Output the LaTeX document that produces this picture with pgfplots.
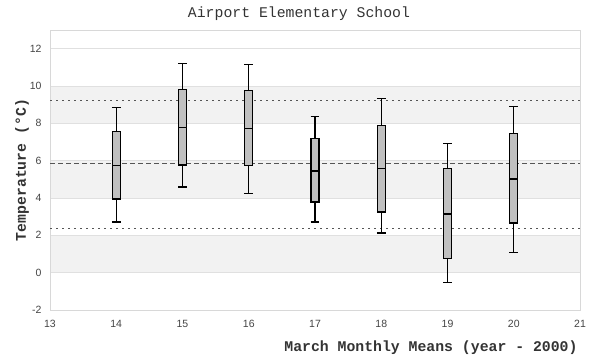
\documentclass[border=0pt]{standalone}
\usepackage{fontspec}
\setmainfont{Liberation Sans}
\newfontfamily\monofont{Liberation Mono}
\usepackage{pgfplots}
\pgfplotsset{compat=1.18}
\usepgfplotslibrary{statistics}
\definecolor{band}{HTML}{F2F2F2}
\definecolor{gridc}{HTML}{E0E0E0}
\definecolor{borderc}{HTML}{D8D8D8}
\definecolor{boxc}{HTML}{C0C0C0}
\definecolor{txt}{HTML}{333333}
\definecolor{tick}{HTML}{444444}
\definecolor{refl}{HTML}{555555}
\begin{document}
\begin{tikzpicture}
\path (0,0) rectangle (600bp,360bp);
\begin{axis}[
  at={(50bp,50bp)}, anchor=south west,
  scale only axis, width=530bp, height=280bp,
  set layers=standard,
  xmin=13, xmax=21, ymin=-2, ymax=13,
  xtick={13,14,...,21}, ytick={-2,0,...,12},
  major tick length=0pt,
  axis line style={draw=borderc, line width=0.8bp},
  ymajorgrids, grid style={draw=gridc, line width=0.8bp},
  /pgf/number format/assume math mode=true,
  tick label style={font=\fontsize{10.5bp}{12bp}\selectfont, text=tick},
  xticklabel style={yshift=-7bp},
  yticklabel style={xshift=-5bp},
  every axis y label/.style={at={(axis description cs:-0.0528,0.5)}, rotate=90, anchor=center},
  every axis x label/.style={at={(axis description cs:1,0)}, anchor=east, yshift=-38bp, xshift=1bp},
  label style={font=\monofont\bfseries\fontsize{14.8bp}{16bp}\selectfont, text=txt},
  xlabel={March Monthly Means (year - 2000)},
  ylabel={Temperature (°C)},
  boxplot/draw direction=y,
  boxplot/box extend=0.12,
  boxplot/whisker extend=0.135,
]
% background bands
\pgfonlayer{axis background}
\fill[band] (axis cs:13,0) rectangle (axis cs:21,2);
\fill[band] (axis cs:13,4) rectangle (axis cs:21,6);
\fill[band] (axis cs:13,8) rectangle (axis cs:21,10);
\endpgfonlayer
% reference lines
\addplot[refl, line width=1bp, dash pattern=on 5bp off 3bp] coordinates {(13,5.83) (21,5.83)};
\addplot[refl, line width=1bp, dash pattern=on 1.5bp off 4.5bp] coordinates {(13,9.21) (21,9.21)};
\addplot[refl, line width=1bp, dash pattern=on 1.5bp off 4.5bp] coordinates {(13,2.39) (21,2.39)};
% boxes
\pgfplotsset{boxstyle/.style={solid, mark=none, draw=black, fill=boxc, line width=1.2bp}}
\addplot[boxstyle, boxplot prepared={draw position=14, lower whisker=2.71, lower quartile=3.95, median=5.75, upper quartile=7.58, upper whisker=8.83}] coordinates {};
\addplot[boxstyle, boxplot prepared={draw position=15, lower whisker=4.59, lower quartile=5.77, median=7.76, upper quartile=9.80, upper whisker=11.20}] coordinates {};
\addplot[boxstyle, boxplot prepared={draw position=16, lower whisker=4.22, lower quartile=5.72, median=7.71, upper quartile=9.75, upper whisker=11.14}] coordinates {};
\addplot[boxstyle, boxplot prepared={draw position=17, lower whisker=2.71, lower quartile=3.79, median=5.45, upper quartile=7.17, upper whisker=8.38}] coordinates {};
\addplot[boxstyle, boxplot prepared={draw position=18, lower whisker=2.12, lower quartile=3.25, median=5.56, upper quartile=7.87, upper whisker=9.32}] coordinates {};
\addplot[boxstyle, boxplot prepared={draw position=19, lower whisker=-0.51, lower quartile=0.78, median=3.14, upper quartile=5.56, upper whisker=6.90}] coordinates {};
\addplot[boxstyle, boxplot prepared={draw position=20, lower whisker=1.10, lower quartile=2.66, median=5.02, upper quartile=7.44, upper whisker=8.89}] coordinates {};
\end{axis}
\node[font=\monofont\fontsize{14.8bp}{16bp}\selectfont, text=txt] at (299bp,346bp) {Airport Elementary School};
\end{tikzpicture}
\end{document}
